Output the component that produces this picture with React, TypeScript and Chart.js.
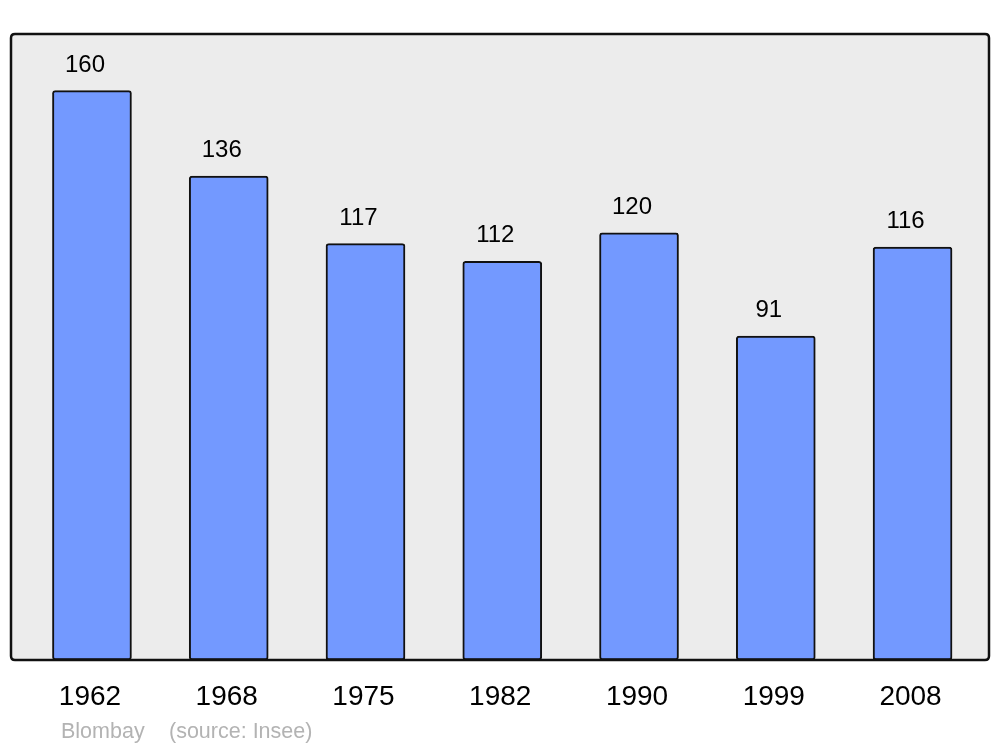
import React, { useEffect, useRef } from "react";
import { Chart, registerables } from "chart.js";

Chart.register(...registerables);

const years: string[] = ["1962", "1968", "1975", "1982", "1990", "1999", "2008"];
const population: number[] = [160, 136, 117, 112, 120, 91, 116];
const author = "Blombay";
const source = "(source: Insee)";

const FONT = "'Liberation Sans', Arial, sans-serif";

function roundRect(ctx: CanvasRenderingContext2D, x: number, y: number, w: number, h: number, r: number) {
  ctx.beginPath();
  ctx.moveTo(x + r, y);
  ctx.lineTo(x + w - r, y);
  ctx.quadraticCurveTo(x + w, y, x + w, y + r);
  ctx.lineTo(x + w, y + h - r);
  ctx.quadraticCurveTo(x + w, y + h, x + w - r, y + h);
  ctx.lineTo(x + r, y + h);
  ctx.quadraticCurveTo(x, y + h, x, y + h - r);
  ctx.lineTo(x, y + r);
  ctx.quadraticCurveTo(x, y, x + r, y);
  ctx.closePath();
}

const framePlugin = {
  id: "frame",
  beforeDatasetsDraw(chart: any) {
    const { ctx, chartArea: a } = chart;
    ctx.save();
    roundRect(ctx, a.left, a.top, a.right - a.left, a.bottom - a.top, 4);
    ctx.fillStyle = "#ececec";
    ctx.fill();
    ctx.restore();
  },
  afterDatasetsDraw(chart: any) {
    const { ctx, chartArea: a } = chart;
    ctx.save();
    const meta = chart.getDatasetMeta(0);
    ctx.fillStyle = "#000";
    ctx.font = `24px ${FONT}`;
    ctx.textAlign = "center";
    ctx.textBaseline = "alphabetic";
    meta.data.forEach((bar: any, i: number) => {
      ctx.fillText(String(population[i]), bar.x - 7, bar.y - 19);
    });
    roundRect(ctx, a.left, a.top, a.right - a.left, a.bottom - a.top, 4);
    ctx.lineWidth = 2.5;
    ctx.strokeStyle = "#111";
    ctx.stroke();
    ctx.font = `21.5px ${FONT}`;
    ctx.fillStyle = "#b3b3b3";
    ctx.textAlign = "left";
    ctx.fillText(author, 61, 738);
    ctx.fillText(source, 169, 738);
    ctx.restore();
  },
};

export default function App() {
  const ref = useRef<HTMLCanvasElement | null>(null);
  useEffect(() => {
    if (!ref.current) return;
    const chart = new Chart(ref.current, {
      type: "bar",
      data: {
        datasets: [
          {
            data: population.map((v, i) => ({ x: i, y: v })),
            backgroundColor: "#7399ff",
            borderColor: "#111",
            borderWidth: 2,
            borderRadius: 3,
            borderSkipped: false,
            barThickness: 79,
          },
        ],
      },
      options: {
        animation: false,
        responsive: false,
        layout: { padding: { left: 11, right: 11, top: 34, bottom: 27 } },
        plugins: { legend: { display: false }, tooltip: { enabled: false }, title: { display: false } },
        scales: {
          x: {
            type: "linear",
            offset: false,
            min: -0.592,
            max: 6.559,
            grid: { display: false, offset: false },
            border: { display: false },
            afterBuildTicks: (axis: any) => {
              axis.ticks = years.map((_, i) => ({ value: i }));
            },
            afterFit: (axis: any) => {
              axis.height = 60;
            },
            ticks: {
              autoSkip: false,
              maxRotation: 0,
              padding: 12,
              labelOffset: -2,
              color: "#000",
              font: { family: FONT, size: 28 },
              callback: (v: any) => years[Math.round(Number(v))] ?? "",
            },
          },
          y: {
            display: false,
            min: 0,
            max: 175.9,
          },
        },
      },
      plugins: [framePlugin],
    });
    return () => chart.destroy();
  }, []);
  return (
    <div style={{ position: "absolute", left: 0, top: 0, width: 1000, height: 747, background: "#fff" }}>
      <canvas ref={ref} width={1000} height={747} style={{ display: "block", width: 1000, height: 747 }} />
    </div>
  );
}
